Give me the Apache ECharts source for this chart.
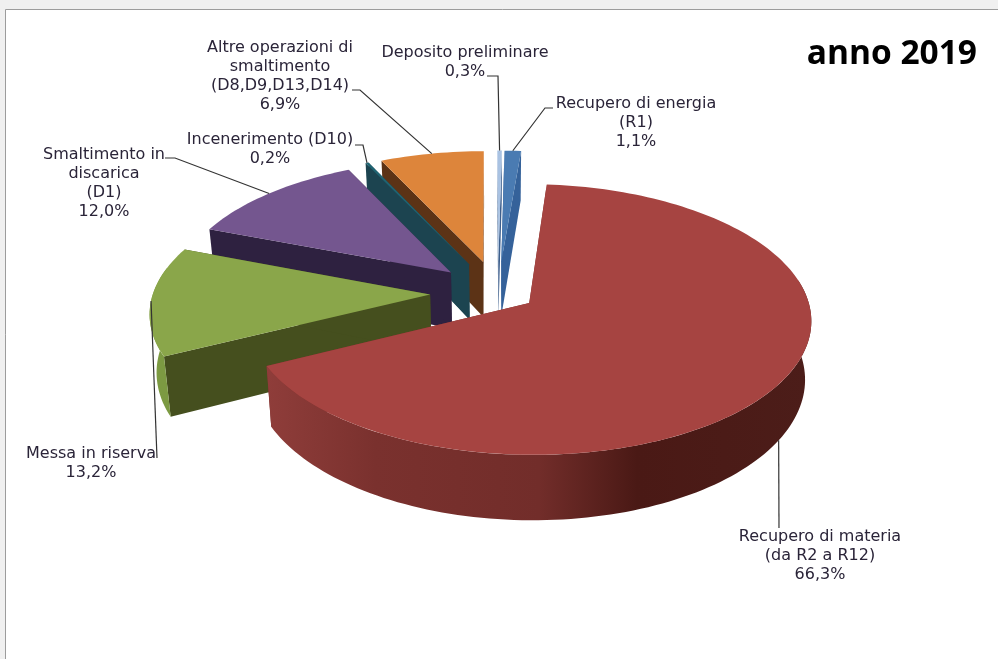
<!DOCTYPE html>
<html>
<head>
<meta charset="utf-8">
<style>
html,body{margin:0;padding:0;background:#f0f0f0;}
#c{position:absolute;left:0;top:0;width:998px;height:659px;}
</style>
<script src="https://cdn.jsdelivr.net/npm/echarts@6/dist/echarts.min.js"></script>
</head>
<body>
<div id="c"></div>
<script>
// Data, in the chart's clockwise order
const sliceNames = [
  'Recupero di materia\n(da R2 a R12)',
  'Messa in riserva',
  'Smaltimento in\ndiscarica\n(D1)',
  'Incenerimento (D10)',
  'Altre operazioni di\nsmaltimento\n(D8,D9,D13,D14)',
  'Deposito preliminare',
  'Recupero di energia\n(R1)'
];
const sliceValues = [66.3, 13.2, 12.0, 0.2, 6.9, 0.3, 1.1];
const chartTitle = 'anno 2019';

// Styles
const topColors = ['#a64441', '#8aa64a', '#74568f', '#1f6472', '#dd853b', '#a9c2e2', '#4a7bb2'];
const wallColors = ['#7a302d', '#454f1e', '#2e2140', '#1c4450', '#5c3316', '#3d5f8c', '#35629a'];
const outerColors = ['#7a302d', '#7c9a42', '#3b2c50', '#1c4450', '#8a5a24', '#8aa0c0', '#3a6aa0'];
const explosions = [0.135, 0.245, 0.235, 0.25, 0.25, 0.25, 0.25];

// Layout of the pie's projection
const view = {cx: 498, cy: 293, R: 277, b: 131, persp: 0.12, depth: 57, taper: 0.02, startDeg: 4.8};

// Label layout: text centre, first line y, and leader route back from the text
const labelBoxes = [
  {x: 820, y: 536, leader: [[779, 528]], anchorZ: 1, anchorShift: -2},
  {x: 91,  y: 453, leader: [[157, 458]], anchorZ: 0, anchorShift: 0},
  {x: 104, y: 154, leader: [[175, 158], [165, 158]], anchorZ: 0, anchorShift: 0},
  {x: 270, y: 139, leader: [[363, 145], [355, 145]], anchorZ: 0, anchorShift: 0},
  {x: 280, y: 47,  leader: [[360, 90], [352, 90]], anchorZ: 0, anchorShift: 0},
  {x: 465, y: 52,  leader: [[498, 76], [487, 76]], anchorZ: 0, anchorShift: 0},
  {x: 636, y: 103, leader: [[545, 108], [553, 108]], anchorZ: 0, anchorShift: 0}
];

function project(X, Y, z) {
  const s = 1 / (1 - view.persp * Y);
  return [
    view.cx + view.R * X * s * (1 - view.taper * z),
    view.cy + view.b * Y * s + z * view.depth * s
  ];
}

const total = sliceValues.reduce((a, b) => a + b, 0);
let running = 0;
const slices = sliceValues.map((v, i) => {
  const a0 = view.startDeg + running / total * 360;
  running += v;
  const a1 = view.startDeg + running / total * 360;
  const mid = (a0 + a1) / 2 * Math.PI / 180;
  return {i, v, a0, a1, ox: Math.sin(mid) * explosions[i], oy: -Math.cos(mid) * explosions[i]};
});
function rim(sl, deg, z) {
  const t = deg * Math.PI / 180;
  return project(sl.ox + Math.sin(t), sl.oy - Math.cos(t), z);
}
function arc(from, to, sl, z) {
  const n = Math.max(2, Math.ceil((to - from) / 1.5));
  const pts = [];
  for (let k = 0; k <= n; k++) pts.push(rim(sl, from + (to - from) * k / n, z));
  return pts;
}
const poly = (points, fill) => ({type: 'polygon', shape: {points}, style: {fill, stroke: null}});

const redWall = {type: 'linear', x: 0, y: 0, x2: 1, y2: 0, colorStops: [
  {offset: 0, color: '#8f3d3a'}, {offset: 0.2, color: '#7a312e'}, {offset: 0.5, color: '#722d2a'},
  {offset: 0.68, color: '#4a1915'}, {offset: 1, color: '#4c1d19'}]};

function renderSlice(params) {
  const sl = slices[slices.length - 1 - params.dataIndex];
  const apex0 = project(sl.ox, sl.oy, 0), apex1 = project(sl.ox, sl.oy, 1);
  const top = arc(sl.a0, sl.a1, sl, 0), bot = arc(sl.a0, sl.a1, sl, 1);
  const wall = wallColors[sl.i];
  const children = [
    poly([apex0, top[0], bot[0], apex1], wall),
    poly([apex0, top[top.length - 1], bot[bot.length - 1], apex1], wall)
  ];
  // only the part of the rim that faces the viewer
  const f0 = Math.max(sl.a0, 80), f1 = Math.min(sl.a1, 282);
  if (f1 > f0) {
    children.push(poly(arc(f0, f1, sl, 0).concat(arc(f0, f1, sl, 1).reverse()),
      sl.i === 0 ? redWall : outerColors[sl.i]));
  }
  children.push(poly([apex0].concat(top), topColors[sl.i]));
  return {type: 'group', children};
}
function renderLabel(params) {
  const sl = slices[slices.length - 1 - params.dataIndex];
  const box = labelBoxes[sl.i];
  const start = rim(sl, (sl.a0 + sl.a1) / 2 + box.anchorShift, box.anchorZ);
  const text = sliceNames[sl.i] + '\n' + sl.v.toFixed(1).replace('.', ',') + '%';
  return {type: 'group', children: [
    {type: 'polyline', shape: {points: [start].concat(box.leader)},
      style: {stroke: '#333333', lineWidth: 1.2, fill: null}},
    {type: 'text', x: box.x, y: box.y - 9, style: {text, align: 'center', verticalAlign: 'top',
      font: '16px "DejaVu Sans"', lineHeight: 19, fill: '#2a2438'}}
  ]};
}

const seriesData = sliceValues.slice().reverse().map(v => [v]);
const chart = echarts.init(document.getElementById('c'), null, {renderer: 'canvas'});
chart.setOption({
  animation: false,
  backgroundColor: 'transparent',
  graphic: [
    {type: 'rect', z: -10, shape: {x: 5.5, y: 9.5, width: 1100, height: 800},
      style: {fill: '#ffffff', stroke: '#9c9c9c', lineWidth: 1}},
    {type: 'text', z: 10, x: 977, y: 37, style: {text: chartTitle, align: 'right', verticalAlign: 'top',
      font: 'bold 33.5px "Open Sans"', fill: '#000000'}}
  ],
  series: [
    {type: 'custom', coordinateSystem: 'none', silent: true, z: 2, renderItem: renderSlice, data: seriesData},
    {type: 'custom', coordinateSystem: 'none', silent: true, z: 3, renderItem: renderLabel, data: seriesData}
  ]
});
</script>
</body>
</html>
